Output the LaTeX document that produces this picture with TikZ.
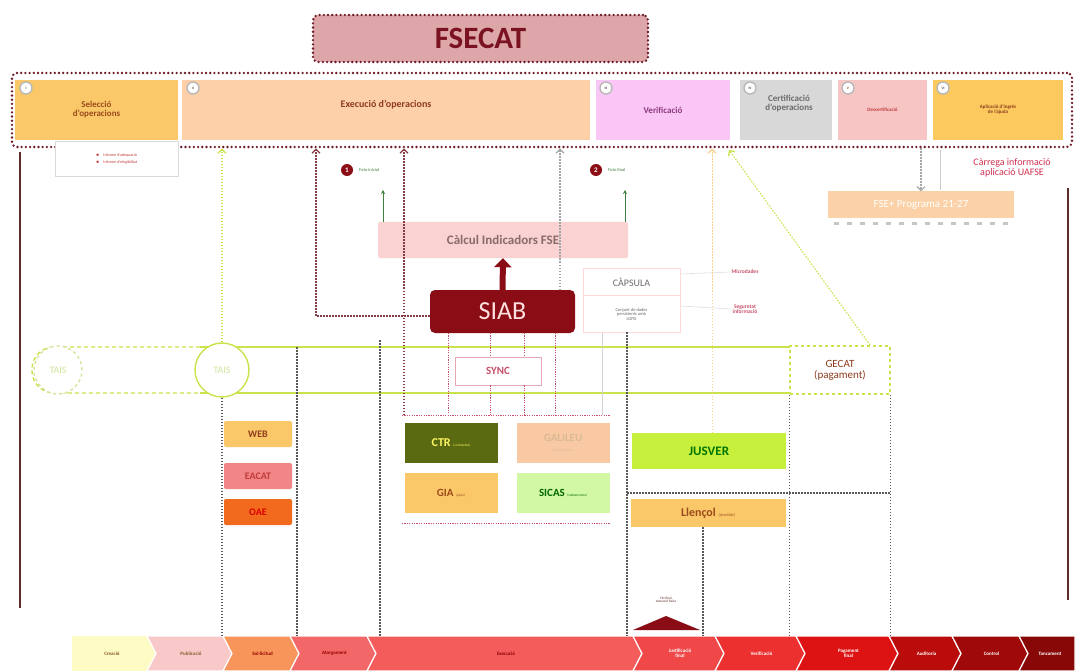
\documentclass[tikz,border=0pt]{standalone}
\usepackage{fontspec}
\setmainfont{Carlito}
\usetikzlibrary{arrows.meta,calc}
\definecolor{dred}{HTML}{6E1A26}
\definecolor{titlered}{HTML}{7A1222}
\definecolor{fsefill}{HTML}{DDA6A8}
\definecolor{selfill}{HTML}{FBC869}
\definecolor{exefill}{HTML}{FDD0A8}
\definecolor{verfill}{HTML}{F9C6F5}
\definecolor{certfill}{HTML}{D8D8D8}
\definecolor{descfill}{HTML}{F8C5C5}
\definecolor{aplfill}{HTML}{FBC95E}
\definecolor{seltext}{HTML}{9A4A1A}
\definecolor{exetext}{HTML}{8E3B1E}
\definecolor{vertext}{HTML}{8E3A7E}
\definecolor{certtext}{HTML}{6E6A6A}
\definecolor{desctext}{HTML}{C03A3A}
\definecolor{limec}{HTML}{C9E34A}
\definecolor{taislight}{HTML}{CFE59A}
\definecolor{ltorange}{HTML}{F8D28A}
\definecolor{siabred}{HTML}{8A0D15}
\definecolor{calcfill}{HTML}{F9D2D1}
\definecolor{calctext}{HTML}{8A6A6A}
\definecolor{syncred}{HTML}{C8506A}
\definecolor{fgreen}{HTML}{3F7F3F}
\definecolor{brownline}{HTML}{5E2B2B}
\definecolor{ctrfill}{HTML}{5A6A10}
\definecolor{galfill}{HTML}{F8C9A2}
\definecolor{giafill}{HTML}{FBC869}
\definecolor{sicfill}{HTML}{D2F8A6}
\definecolor{jusfill}{HTML}{C6F03C}
\definecolor{webfill}{HTML}{FBC869}
\definecolor{eacfill}{HTML}{F28585}
\definecolor{oaefill}{HTML}{F26A1E}
\definecolor{fsepfill}{HTML}{FBD2A7}
\definecolor{uafsetext}{HTML}{D03050}
\definecolor{ch1}{HTML}{FFFBC5}
\definecolor{ch2}{HTML}{F9C9C9}
\definecolor{ch3}{HTML}{F7955A}
\definecolor{ch4}{HTML}{F26868}
\definecolor{ch5}{HTML}{F45C5C}
\definecolor{ch6}{HTML}{F04848}
\definecolor{ch7}{HTML}{EC3030}
\definecolor{ch8}{HTML}{DD1212}
\definecolor{ch9}{HTML}{BB0C0C}
\definecolor{ch10}{HTML}{A00909}
\definecolor{ch11}{HTML}{880808}
\newcommand\fsz[1]{\fontsize{#1}{#1}\selectfont}
\newcommand\chev[6]{%
  \fill[#4, draw=white, line width=1.2pt] (#2,636) -- (#3,636) -- (#3+9,653.5) -- (#3,671) -- (#2,671) -- (#2+9,653.5) -- cycle;
  \node[font=\fsz{5}\bfseries, text=#5] (#1) at ({(#2+#3)/2+6},653.5) {#6};}
\begin{document}
\begin{tikzpicture}[x=1pt,y=-1pt,
 every node/.style={inner sep=1pt, align=center},
 reddots/.style={draw=dred, line width=2.6pt, dash pattern=on 0pt off 4.2pt, line cap=round},
 vdot/.style={draw=black!65, line width=1.4pt, dash pattern=on 1.5pt off 1.5pt},
 rdot/.style={draw=dred!85, line width=1.3pt, dash pattern=on 1.5pt off 1.5pt},
 pdot/.style={draw=syncred, line width=0.9pt, dash pattern=on 1.2pt off 1.2pt},
 ldot/.style={draw=limec, line width=1.1pt, dash pattern=on 1.5pt off 1.5pt},
 odot/.style={draw=ltorange, line width=1pt, dash pattern=on 1.5pt off 1.5pt},
 gdot/.style={draw=gray!70, line width=1.1pt, dash pattern=on 1.5pt off 1.5pt},
 upbarb/.style={-{Straight Barb[length=4pt,width=8pt,line width=1.3pt]}},
 phase/.style={rectangle, minimum height=60pt, inner sep=2pt},
 sysbox/.style={rectangle, minimum width=93pt, minimum height=40pt, inner sep=1pt},
 sidebox/.style={rectangle, minimum width=68pt, minimum height=26pt, rounded corners=2pt},
 numc/.style={circle, draw=gray!55, fill=white, line width=1.4pt, minimum size=12pt, inner sep=0pt, font=\fsz{3.5}\bfseries, text=gray!60!black},
 marker/.style={circle, fill=siabred, text=white, minimum size=12pt, inner sep=0pt, font=\fsz{7}\bfseries},
 fototext/.style={font=\fsz{4.5}, text=fgreen, anchor=west},
]
\useasboundingbox (0,0) rectangle (1079,671);
\fill[white] (0,0) rectangle (1079,671);

% ---------- title ----------
\node[reddots, fill=fsefill, rounded corners=5pt, minimum width=335pt, minimum height=47pt,
      font=\fsz{31}\bfseries, text=titlered] (fsecat) at (480.5,38.5) {FSECAT};

% ---------- phases ----------
\node[phase, fill=selfill, minimum width=163pt, text=seltext, font=\fsz{9}\bfseries] (sel) at (96.5,110) {Selecció\\d’operacions};
\node[phase, fill=exefill, minimum width=408pt] (exe) at (386,110) {};
\node[text=exetext, font=\fsz{10}\bfseries] (exet) at (386,105) {Execució d’operacions};
\node[phase, fill=verfill, minimum width=134pt, text=vertext, font=\fsz{9}\bfseries] (ver) at (663,110) {Verificació};
\node[phase, fill=certfill, minimum width=92pt] (cert) at (786,110) {};
\node[text=certtext, font=\fsz{9}\bfseries] (certt) at (789,104) {Certificació\\d’operacions};
\node[phase, fill=descfill, minimum width=89pt, text=desctext, font=\fsz{5}\bfseries] (desc) at (882.5,110) {Descertificació};
\node[phase, fill=aplfill, minimum width=130pt, text=exetext, font=\fsz{5}\bfseries] (apl) at (998,110) {Aplicació d’ingrés\\de l’ajuda};
\node[numc] (n1) at (26,88) {I};
\node[numc] (n2) at (193,88) {II};
\node[numc] (n3) at (606,88) {III};
\node[numc] (n4) at (750,88) {IV};
\node[numc] (n5) at (848,88) {V};
\node[numc] (n6) at (943,88) {VI};
\node[reddots, rounded corners=5pt, minimum width=1060pt, minimum height=74pt] (frame) at (542,110) {};

% informes
\node[draw=gray!30, fill=white, minimum width=123pt, minimum height=35pt, align=left,
      font=\fsz{4}, text=desctext] (inf) at (116.5,159) {$\bullet$\quad Informe d’adequació\\[3pt]$\bullet$\quad Informe d’elegibilitat};

% side lines
\coordinate (l1) at (20,152);
\coordinate (l2) at (20,608);
\draw[brownline, line width=1.8pt] (l1) -- (l2);
\coordinate (r1) at (1068,188);
\coordinate (r2) at (1068,600);
\draw[brownline, line width=2.4pt] (r1) -- (r2);

% UAFSE
\node[font=\fsz{10}, text=uafsetext] (uafse) at (1012,168) {Càrrega informació\\aplicació UAFSE};
\coordinate (u1) at (940,150);
\coordinate (u2) at (940,190);
\draw[gray!40, line width=0.6pt] (u1) -- (u2);
\node[fill=fsepfill, minimum width=186pt, minimum height=27pt, text=white, font=\fsz{11}] (fsep) at (921,205) {FSE+ Programa 21-27};
\draw[gray!45, line width=3pt, dash pattern=on 5pt off 8pt] ($(fsep.south west)+(6,5)$) -- ($(fsep.south east)+(-4,5)$);
\draw[gdot, -{Straight Barb[length=4pt,width=8pt,line width=1.1pt]}] (fsep.north |- frame.south) -- (fsep.north);

% ---------- middle ----------
\node[fill=calcfill, rounded corners=2pt, minimum width=250pt, minimum height=36pt, text=calctext, font=\fsz{13}\bfseries] (calc) at (503,240) {Càlcul Indicadors FSE};
\node[fill=siabred, rounded corners=5pt, minimum width=145pt, minimum height=43pt, text=red!12, font=\fsz{26}] (siab) at (502.5,311.5) {SIAB};
\draw[siabred, line width=6pt, -{Triangle[length=9pt,width=17pt]}] (siab.north) -- (calc.south);

\node[draw=red!15, fill=white, minimum width=97pt, minimum height=64pt] (caps) at (631.5,300) {};
\node[font=\fsz{10}, text=gray!85!black] (capst) at (631.5,282) {CÀPSULA};
\draw[red!15, line width=0.6pt] (caps.west |- 0,295) -- (caps.east |- 0,295);
\node[font=\fsz{4.5}, text=gray!80!black] (capsd) at (631.5,314) {Conjunt de dades\\persistents amb\\LOPD};
\node[font=\fsz{5.5}\bfseries, text=syncred] (micro) at (745,272) {Microdades};
\node[font=\fsz{5.5}\bfseries, text=syncred] (segur) at (745,309) {Seguretat\\informació};
\draw[gray!25, line width=0.6pt] (caps.east |- 0,274) -- (micro.west);
\draw[gray!25, line width=0.6pt] (caps.east |- 0,306) -- (segur.west);

% markers
\node[marker] (m1) at (347,170) {1};
\node[fototext] (f1) at (358,170) {Foto inicial};
\node[marker] (m2) at (596,170) {2};
\node[fototext] (f2) at (607,170) {Foto final};
\coordinate (ga) at (383,190);
\coordinate (gb) at (625,190);
\draw[fgreen, line width=1pt, -{Stealth[length=4pt,width=4pt]}] (calc.north -| ga) -- (ga);
\draw[fgreen, line width=1pt, -{Stealth[length=4pt,width=4pt]}] (calc.north -| gb) -- (gb);

% ---------- TAIS band ----------
\draw[limec, line width=1.4pt, dash pattern=on 4pt off 3pt, rounded corners=22pt] (200,347) -- (32,347) -- (32,393) -- (200,393);
\draw[limec, line width=1.6pt] (200,347) -- (790,347);
\draw[limec, line width=1.6pt] (200,393) -- (790,393);
\node[circle, draw=taislight, dashed, line width=1.3pt, fill=white, minimum size=48pt, text=taislight, font=\fsz{10}] (tais1) at (58,370) {TAIS};
\node[circle, draw=limec, line width=1.4pt, fill=white, minimum size=54pt, text=taislight, font=\fsz{10}] (tais2) at (222,370) {TAIS};
\node[draw=limec, dashed, line width=1.2pt, fill=white, minimum width=100pt, minimum height=48pt, text=exetext, font=\fsz{11}] (gecat) at (840,370) {GECAT\\(pagament)};
\node[draw=syncred!50, fill=white, line width=0.8pt, minimum width=86pt, minimum height=28pt, text=syncred, font=\fsz{11}\bfseries] (sync) at (498,371) {SYNC};

% sync lines
\foreach \sx [count=\i] in {448,490,524,555}{
  \coordinate (sa\i) at (\sx,333);
  \coordinate (sb\i) at (\sx,415);
}
\draw[pdot] (sa1) -- (sb1);
\draw[pdot] (sa2) -- (sync.north -| sa2);
\draw[pdot] (sync.south -| sa2) -- (sb2);
\draw[pdot] (sa3) -- (sync.north -| sa3);
\draw[pdot] (sync.south -| sa3) -- (sb3);
\draw[pdot] (sa4) -- (sb4);
\coordinate (st1) at (402,415);
\coordinate (st2) at (610,415);
\coordinate (sb1x) at (402,523);
\coordinate (sb2x) at (610,523);
\draw[pdot] (st1) -- (st2);
\draw[pdot] (sb1x) -- (sb2x);
\coordinate (th1) at (602,333);
\draw[gray!35, line width=0.5pt] (th1) -- (th1 |- st2);

% ---------- systems ----------
\node[sysbox, fill=ctrfill, text=yellow!60, font=\fsz{12}\bfseries] (ctr) at (451,443) {CTR {\fsz{3.5}\mdseries(contractes)}};
\node[sysbox, fill=galfill, text=brown!55!white, font=\fsz{11}\bfseries] (gal) at (563,443) {GALILEU\\[-1pt]{\fsz{3.5}\mdseries(subvencions)}};
\node[sysbox, fill=giafill, text=seltext, font=\fsz{11}\bfseries] (gia) at (451,493) {GIA {\fsz{3.5}\mdseries(ajuts)}};
\node[sysbox, fill=sicfill, text=green!40!black, font=\fsz{11}\bfseries] (sicas) at (563,493) {SICAS {\fsz{3.5}\mdseries(subvencions)}};

\node[sidebox, fill=webfill, text=exetext, font=\fsz{10}\bfseries] (web) at (258,434) {WEB};
\node[sidebox, fill=eacfill, text=desctext, font=\fsz{10}\bfseries] (eacat) at (258,476) {EACAT};
\node[sidebox, fill=oaefill, text=red!85!black, font=\fsz{10}\bfseries] (oae) at (258,512) {OAE};

\node[fill=jusfill, minimum width=154pt, minimum height=36pt, text=green!45!black, font=\fsz{13}\bfseries] (jusver) at (709,451) {JUSVER};
\node[fill=giafill, minimum width=155pt, minimum height=28pt, text=seltext, font=\fsz{12}\bfseries] (llencol) at (708,513) {Llençol {\fsz{4}\mdseries(checklist)}};

% ---------- bottom chevrons ----------
\fill[ch1] (72,636) -- (147,636) -- (156,653.5) -- (147,671) -- (72,671) -- cycle;
\node[font=\fsz{5}\bfseries, text=brown!70!black] (cv1) at (112,653.5) {Creació};
\chev{cv2}{147}{223}{ch2}{brown!70!black}{Publicació}
\chev{cv3}{223}{290}{ch3}{red!60!black}{Sol·licitud}
\chev{cv4}{290}{367}{ch4}{red!60!black}{Atorgament}
\chev{cv5}{367}{633}{ch5}{red!55!black}{Execució}
\chev{cv6}{633}{715}{ch6}{white}{Justificació\\final}
\chev{cv7}{715}{796}{ch7}{white}{Verificació}
\chev{cv8}{796}{889}{ch8}{white}{Pagament\\final}
\chev{cv9}{889}{952}{ch9}{white}{Auditoria}
\chev{cv10}{952}{1019}{ch10}{white}{Control}
\fill[ch11, draw=white, line width=1.2pt] (1019,636) -- (1075,636) -- (1075,671) -- (1019,671) -- (1028,653.5) -- cycle;
\node[font=\fsz{5}\bfseries, text=white] (cv11) at (1050,653.5) {Tancament};

% triangle
\coordinate (ta) at (633,630);
\coordinate (tb) at (700,630);
\coordinate (tc) at (666,616);
\fill[siabred] (ta) -- (tc) -- (tb) -- cycle;
\node[font=\fsz{3.5}, text=brownline] (tri) at (666,600) {Fet final\\execució física};

% ---------- vertical dotted connectors ----------
\coordinate (bar) at (0,636);
\draw[vdot] (tais2.south) -- (tais2.south |- bar);
\coordinate (v297) at (297,347);
\draw[vdot] (v297) -- (v297 |- bar);
\coordinate (v380) at (380,340);
\draw[vdot] (v380) -- (v380 |- bar);
\coordinate (v627) at (627,332);
\draw[vdot] (v627) -- (v627 |- bar);
\coordinate (v703) at (703,527);
\draw[vdot] (v703) -- (v703 |- bar);
\draw[vdot] (gecat.south west) -- (gecat.south west |- bar);
\draw[vdot] (gecat.south east) -- (gecat.south east |- bar);
\coordinate (h1) at (627,493);
\coordinate (h2) at (890,493);
\draw[vdot] (h1) -- (h2);

% ---------- upward connectors ----------
\draw[ldot, upbarb] (tais2.north) -- (tais2.north |- frame.south);
\coordinate (c316) at (316,316);
\draw[rdot, upbarb] (siab.west |- c316) -- (c316) -- (c316 |- frame.south);
\coordinate (c404) at (404,415);
\draw[rdot, upbarb] (c404) -- (c404 |- frame.south);
\coordinate (c560) at (560,290);
\draw[gdot, upbarb] (c560) -- (c560 |- frame.south);
\coordinate (c712) at (712,433);
\draw[odot, upbarb] (c712) -- (c712 |- frame.south);
\coordinate (cdg) at (870,345);
\coordinate (cdt) at (729,150);
\draw[ldot, upbarb] (cdg) -- (cdt);
\end{tikzpicture}
\end{document}
